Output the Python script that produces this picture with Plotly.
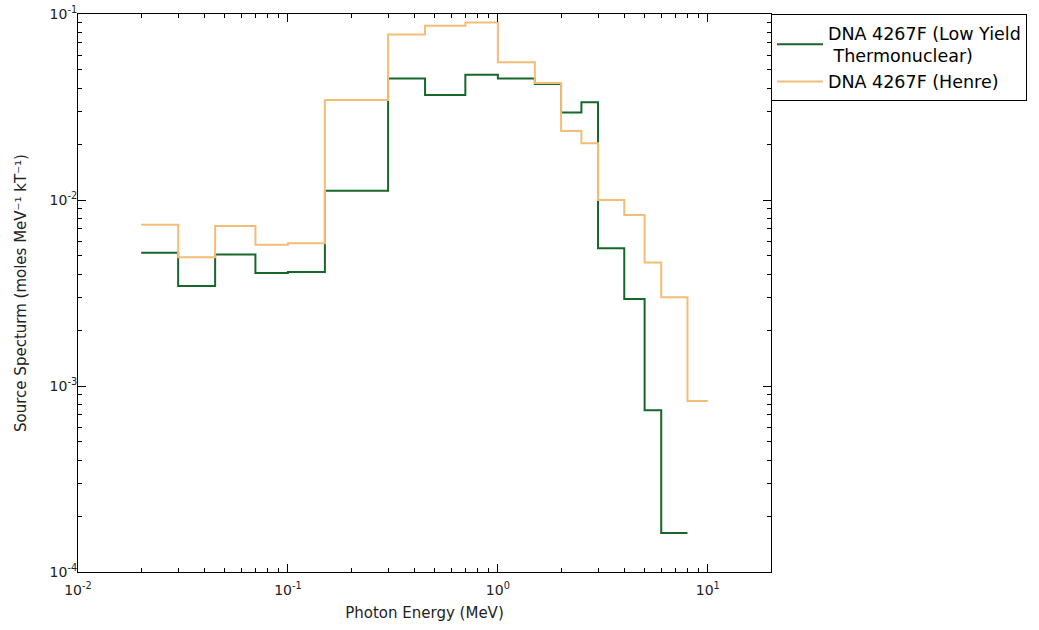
import plotly.graph_objects as go

edges = [0.02, 0.03, 0.045, 0.07, 0.1, 0.15, 0.3, 0.45, 0.7, 1.0, 1.5, 2.0, 2.5, 3.0, 4.0, 5.0, 6.0, 8.0, 10.0]

thermo_vals = [5.2e-3, 3.45e-3, 5.1e-3, 4.05e-3, 4.1e-3, 1.12e-2, 4.5e-2, 3.67e-2, 4.72e-2, 4.5e-2,
               4.2e-2, 2.95e-2, 3.35e-2, 5.5e-3, 2.94e-3, 7.4e-4, 1.62e-4]
henre_vals = [7.35e-3, 4.92e-3, 7.25e-3, 5.75e-3, 5.85e-3, 3.45e-2, 7.75e-2, 8.65e-2, 9.0e-2, 5.5e-2,
              4.25e-2, 2.35e-2, 2.02e-2, 1.0e-2, 8.3e-3, 4.62e-3, 3.0e-3, 8.3e-4]

x_tickvals = [0.01, 0.1, 1, 10]
x_ticktext = ["10<sup>-2</sup>", "10<sup>-1</sup>", "10<sup>0</sup>", "10<sup>1</sup>"]
y_tickvals = [1e-4, 1e-3, 1e-2, 1e-1]
y_ticktext = ["10<sup>-4</sup>", "10<sup>-3</sup>", "10<sup>-2</sup>", "10<sup>-1</sup>"]

x_minor = [m * d for d in [0.01, 0.1, 1, 10] for m in range(2, 10)]
y_minor = [m * d for d in [1e-4, 1e-3, 1e-2] for m in range(2, 10)]

green = "#17662c"
orange = "#f4bd76"

fig = go.Figure()
fig.add_trace(go.Scatter(
    x=edges[:len(thermo_vals) + 1], y=thermo_vals + [thermo_vals[-1]],
    mode="lines", line=dict(shape="hv", color=green, width=2),
    name="DNA 4267F (Low Yield<br> Thermonuclear)"))
fig.add_trace(go.Scatter(
    x=edges[:len(henre_vals) + 1], y=henre_vals + [henre_vals[-1]],
    mode="lines", line=dict(shape="hv", color=orange, width=2),
    name="DNA 4267F (Henre)"))

tick_font = dict(family="DejaVu Sans", size=14, color="#222222")
title_font = dict(family="DejaVu Sans", size=15, color="#222222")

axis_common = dict(
    showline=True, linecolor="black", linewidth=1, mirror="allticks",
    ticks="inside", ticklen=8, tickwidth=1, tickcolor="black", showgrid=False, zeroline=False,
    tickfont=tick_font, automargin=False,
)

fig.update_xaxes(type="log", range=[-2, 1.30103], tickvals=x_tickvals, ticktext=x_ticktext,
                 minor=dict(tickvals=x_minor, ticks="inside", ticklen=4, tickcolor="black", showgrid=False),
                 title=dict(text="Photon Energy (MeV)", font=title_font, standoff=10),
                 ticklabelstandoff=5,
                 **axis_common)
fig.update_yaxes(type="log", range=[-4, -1], tickvals=y_tickvals, ticktext=y_ticktext,
                 minor=dict(tickvals=y_minor, ticks="inside", ticklen=4, tickcolor="black", showgrid=False),
                 title=dict(text="Source Specturm (moles MeV⁻¹ kT⁻¹)", font=title_font, standoff=19),
                 ticklabelstandoff=-3,
                 **axis_common)

fig.update_layout(
    width=1039, height=630,
    margin=dict(l=78, r=266, t=14, b=58),
    paper_bgcolor="white", plot_bgcolor="white",
    font=dict(family="DejaVu Sans", color="#222222"),
    legend=dict(x=1.0, y=1.0, xanchor="left", yanchor="top",
                bordercolor="black", borderwidth=1, bgcolor="white",
                font=dict(family="DejaVu Sans", size=17.5, color="black"),
                itemwidth=46, tracegroupgap=0),
    showlegend=True,
)

fig.write_html("out.html", config={"displayModeBar": False},
               post_script="document.body.style.margin='0';")
